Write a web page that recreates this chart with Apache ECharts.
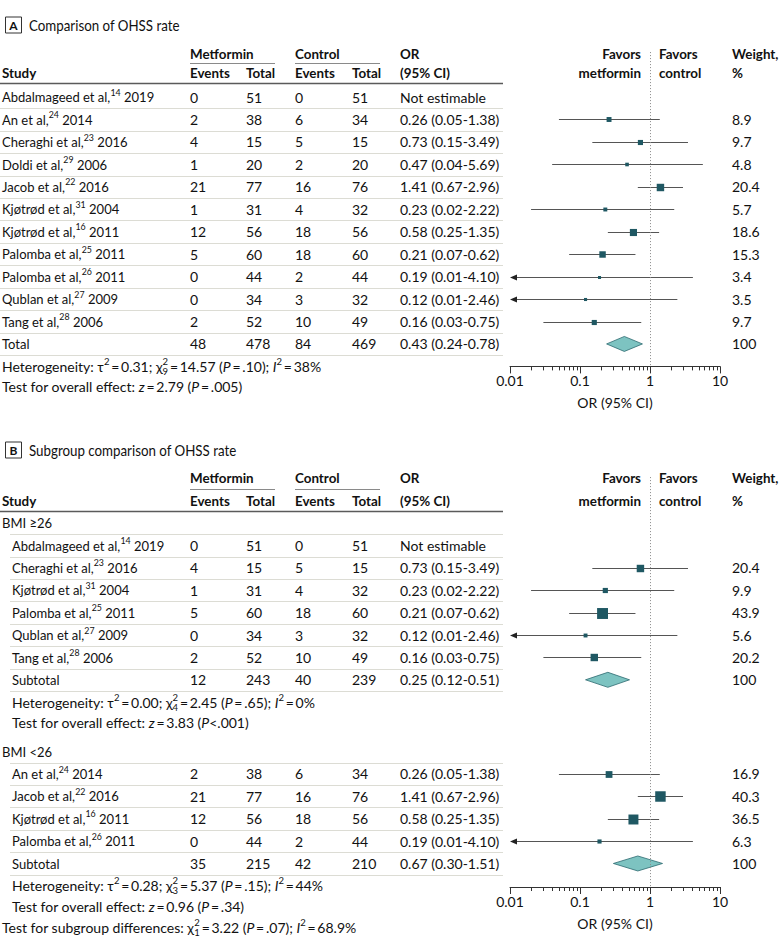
<!DOCTYPE html>
<html>
<head>
<meta charset="utf-8">
<script src="https://cdn.jsdelivr.net/npm/echarts@6/dist/echarts.min.js"></script>
<style>
  html, body { margin: 0; padding: 0; background: #fff; }
  #main { width: 780px; height: 944px; }
</style>
</head>
<body>
<div id="main"></div>
<script>
// ---------- panel A: all studies ----------
var studyA = ['Abdalmageed et al,', 'An et al,', 'Cheraghi et al,', 'Doldi et al,', 'Jacob et al,', 'Kjøtrød et al,', 'Kjøtrød et al,', 'Palomba et al,', 'Palomba et al,', 'Qublan et al,', 'Tang et al,'];
var refA = ['14', '24', '23', '29', '22', '31', '16', '25', '26', '27', '28'];
var yearA = ['2019', '2014', '2016', '2006', '2016', '2004', '2011', '2011', '2011', '2009', '2006'];
var metEventsA = [0, 2, 4, 1, 21, 1, 12, 5, 0, 0, 2];
var metTotalA = [51, 38, 15, 20, 77, 31, 56, 60, 44, 34, 52];
var ctlEventsA = [0, 6, 5, 2, 16, 4, 18, 18, 2, 3, 10];
var ctlTotalA = [51, 34, 15, 20, 76, 32, 56, 60, 44, 32, 49];
var orA = [null, 0.26, 0.73, 0.47, 1.41, 0.23, 0.58, 0.21, 0.19, 0.12, 0.16];
var loA = [null, 0.05, 0.15, 0.04, 0.67, 0.02, 0.25, 0.07, 0.01, 0.01, 0.03];
var hiA = [null, 1.38, 3.49, 5.69, 2.96, 2.22, 1.35, 0.62, 4.10, 2.46, 0.75];
var weightA = [null, 8.9, 9.7, 4.8, 20.4, 5.7, 18.6, 15.3, 3.4, 3.5, 9.7];
var totalA = [48, 478, 84, 469];
var pooledA = [0.43, 0.24, 0.78];
var hetA = 'Heterogeneity: τ{sup|2}\u2009=\u20090.31; χ{ss|2}{sub|9}\u2009=\u200914.57 ({i|P}\u2009=\u2009.10); {i|I}{sup|2}\u2009=\u200938%';
var testA = 'Test for overall effect: {i|z}\u2009=\u20092.79 ({i|P}\u2009=\u2009.005)';

// ---------- panel B: BMI >= 26 ----------
var studyB1 = ['Abdalmageed et al,', 'Cheraghi et al,', 'Kjøtrød et al,', 'Palomba et al,', 'Qublan et al,', 'Tang et al,'];
var refB1 = ['14', '23', '31', '25', '27', '28'];
var yearB1 = ['2019', '2016', '2004', '2011', '2009', '2006'];
var metEventsB1 = [0, 4, 1, 5, 0, 2];
var metTotalB1 = [51, 15, 31, 60, 34, 52];
var ctlEventsB1 = [0, 5, 4, 18, 3, 10];
var ctlTotalB1 = [51, 15, 32, 60, 32, 49];
var orB1 = [null, 0.73, 0.23, 0.21, 0.12, 0.16];
var loB1 = [null, 0.15, 0.02, 0.07, 0.01, 0.03];
var hiB1 = [null, 3.49, 2.22, 0.62, 2.46, 0.75];
var weightB1 = [null, 20.4, 9.9, 43.9, 5.6, 20.2];
var subtotalB1 = [12, 243, 40, 239];
var pooledB1 = [0.25, 0.12, 0.51];
var hetB1 = 'Heterogeneity: τ{sup|2}\u2009=\u20090.00; χ{ss|2}{sub|4}\u2009=\u20092.45 ({i|P}\u2009=\u2009.65); {i|I}{sup|2}\u2009=\u20090%';
var testB1 = 'Test for overall effect: {i|z}\u2009=\u20093.83 ({i|P}<.001)';

// ---------- panel B: BMI < 26 ----------
var studyB2 = ['An et al,', 'Jacob et al,', 'Kjøtrød et al,', 'Palomba et al,'];
var refB2 = ['24', '22', '16', '26'];
var yearB2 = ['2014', '2016', '2011', '2011'];
var metEventsB2 = [2, 21, 12, 0];
var metTotalB2 = [38, 77, 56, 44];
var ctlEventsB2 = [6, 16, 18, 2];
var ctlTotalB2 = [34, 76, 56, 44];
var orB2 = [0.26, 1.41, 0.58, 0.19];
var loB2 = [0.05, 0.67, 0.25, 0.01];
var hiB2 = [1.38, 2.96, 1.35, 4.10];
var weightB2 = [16.9, 40.3, 36.5, 6.3];
var subtotalB2 = [35, 215, 42, 210];
var pooledB2 = [0.67, 0.30, 1.51];
var hetB2 = 'Heterogeneity: τ{sup|2}\u2009=\u20090.28; χ{ss|2}{sub|3}\u2009=\u20095.37 ({i|P}\u2009=\u2009.15); {i|I}{sup|2}\u2009=\u200944%';
var testB2 = 'Test for overall effect: {i|z}\u2009=\u20090.96 ({i|P}\u2009=\u2009.34)';
var testSubgroup = 'Test for subgroup differences: χ{ss|2}{sub|1}\u2009=\u20093.22 ({i|P}\u2009=\u2009.07); {i|I}{sup|2}\u2009=\u200968.9%';

var groupLabels = ['BMI ≥26', 'BMI <26'];

// ---------- layout / style ----------
var FONT = 'Lato, "Open Sans", sans-serif';
var FS = 14;
var NARROW = 0.93; // the source face is a little narrower than Lato for words
var INK = '#111';
var RULE = '#dcdcd4';
var SQUARE = '#1f5863';
var CI_LINE = '#555';
var DIAMOND = '#7dc3c1';
var X_MIN = 0.01, X_MAX = 10;
var COL = { study: 2, metEv: 190, metN: 246, ctlEv: 295, ctlN: 352, or: 400, favL: 641, favR: 659, weight: 732, ruleEnd: 503 };

function rich(fs) {
  return {
    sup: { fontSize: 9.5, fontFamily: FONT, lineHeight: 10, verticalAlign: 'top' },
    ss: { fontSize: 9.5, fontFamily: FONT, lineHeight: 10, verticalAlign: 'top', width: 0 },
    sub: { fontSize: 9.5, fontFamily: FONT, lineHeight: 10, verticalAlign: 'bottom' },
    i: { fontSize: fs, fontFamily: FONT, fontStyle: 'italic', lineHeight: 20 }
  };
}

function fmt(v) { return v.toFixed(2); }
function ciText(or, lo, hi) { return or == null ? 'Not estimable' : fmt(or) + ' (' + fmt(lo) + '-' + fmt(hi) + ')'; }
function label(name, ref, year) { return name + '{sup|' + ref + '} ' + year; }
function cell(x, t, align, bold, fs, sx) { return { x: x, t: String(t), align: align || 'left', bold: !!bold, fs: fs || FS, sx: sx || 1 }; }
function hcell(x, t, align) { return cell(x, t, align, true, 13.4); }
function wcell(x, t) { return cell(x, t, 0, 0, FS, NARROW); }

// header rows (two text lines, underlines under the group names, thick rule)
function headerRows(rows, p1, p2, pRule, pUnder) {
  rows.push({ pos: p1, cells: [hcell(COL.metEv, 'Metformin'), hcell(COL.ctlEv, 'Control'), hcell(COL.or, 'OR'),
    hcell(COL.favL, 'Favors', 'right'), hcell(COL.favR, 'Favors'), hcell(COL.weight, 'Weight,')] });
  rows.push({ pos: p2, cells: [hcell(COL.study, 'Study'), hcell(COL.metEv, 'Events'), hcell(COL.metN, 'Total'),
    hcell(COL.ctlEv, 'Events'), hcell(COL.ctlN, 'Total'), hcell(COL.or, '(95% CI)'),
    hcell(COL.favL, 'metformin', 'right'), hcell(COL.favR, 'control'), hcell(COL.weight, '%')] });
  rows.push({ pos: pUnder, line: [COL.metEv, COL.metEv + 85], under: true });
  rows.push({ pos: pUnder, line: [COL.ctlEv, COL.ctlEv + 85], under: true });
  rows.push({ pos: pRule, line: [0, COL.ruleEnd], thick: true });
}

function dataRow(x0, pos, name, nums, orTxt, w) {
  return { pos: pos, cells: [wcell(x0, name), cell(COL.metEv, nums[0]), cell(COL.metN, nums[1]), cell(COL.ctlEv, nums[2]),
    cell(COL.ctlN, nums[3]), cell(COL.or, orTxt), cell(COL.weight, w == null ? '' : w)] };
}

// ----- table rows, panel A -----
var rowsA = [];
headerRows(rowsA, -1.9, -1.05, -0.62, -1.53);
studyA.forEach(function (s, i) {
  rowsA.push(dataRow(COL.study, i, label(s, refA[i], yearA[i]),
    [metEventsA[i], metTotalA[i], ctlEventsA[i], ctlTotalA[i]], ciText(orA[i], loA[i], hiA[i]), weightA[i]));
  rowsA.push({ pos: i + 0.5, line: [0, COL.ruleEnd] });
});
rowsA.push(dataRow(COL.study, studyA.length, 'Total', totalA, ciText(pooledA[0], pooledA[1], pooledA[2]), 100));
rowsA.push({ pos: studyA.length + 0.5, line: [0, COL.ruleEnd] });
rowsA.push({ pos: 12.0, cells: [cell(COL.study, hetA)] });
rowsA.push({ pos: 12.9, cells: [cell(COL.study, testA)] });

// ----- table rows, panel B -----
var rowsB = [];
var IND = 12;
headerRows(rowsB, -2.0, -0.98, -0.54, -1.52);
function groupRows(start, g, studies, refs, years, me, mt, ce, ct, or, lo, hi, w, sub, pooled, het, test) {
  rowsB.push({ pos: start, cells: [wcell(COL.study, groupLabels[g])] });
  rowsB.push({ pos: start + 0.5, line: [10, COL.ruleEnd] });
  studies.forEach(function (s, i) {
    var p = start + 1 + i;
    rowsB.push(dataRow(IND, p, label(s, refs[i], years[i]), [me[i], mt[i], ce[i], ct[i]], ciText(or[i], lo[i], hi[i]), w[i]));
    rowsB.push({ pos: p + 0.5, line: [10, COL.ruleEnd] });
  });
  var ps = start + 1 + studies.length;
  rowsB.push(dataRow(IND, ps, 'Subtotal', sub, ciText(pooled[0], pooled[1], pooled[2]), 100));
  rowsB.push({ pos: ps + 0.5, line: [10, COL.ruleEnd] });
  rowsB.push({ pos: ps + 1.0, cells: [cell(IND, het)] });
  rowsB.push({ pos: ps + 1.92, cells: [cell(IND, test)] });
}
groupRows(0, 0, studyB1, refB1, yearB1, metEventsB1, metTotalB1, ctlEventsB1, ctlTotalB1, orB1, loB1, hiB1, weightB1, subtotalB1, pooledB1, hetB1, testB1);
groupRows(10.2, 1, studyB2, refB2, yearB2, metEventsB2, metTotalB2, ctlEventsB2, ctlTotalB2, orB2, loB2, hiB2, weightB2, subtotalB2, pooledB2, hetB2, testB2);
rowsB.push({ pos: 18.05, cells: [cell(COL.study, testSubgroup)] });

// ----- forest marks -----
function studyPoints(or, lo, hi, w, offset) {
  var out = [];
  or.forEach(function (v, i) { if (v != null) out.push([v, offset + i, lo[i], hi[i], w[i]]); });
  return out;
}
var forestA = studyPoints(orA, loA, hiA, weightA, 0);
var diamondA = [[pooledA[0], studyA.length, pooledA[1], pooledA[2]]];
var forestB = studyPoints(orB1, loB1, hiB1, weightB1, 1).concat(studyPoints(orB2, loB2, hiB2, weightB2, 11.2));
var diamondB = [[pooledB1[0], 7, pooledB1[1], pooledB1[2]], [pooledB2[0], 15.2, pooledB2[1], pooledB2[2]]];

function renderTable(rows) {
  return function (params, api) {
    var r = rows[params.dataIndex];
    var y = api.coord([1, r.pos])[1];
    if (r.line) {
      var yy = Math.round(y) + 0.5;
      return {
        type: 'line', shape: { x1: r.line[0], y1: yy, x2: r.line[1], y2: yy },
        style: { stroke: r.thick ? '#5a5a5a' : (r.under ? '#8a8a8a' : RULE), lineWidth: r.thick ? 1.6 : 1 }
      };
    }
    return {
      type: 'group',
      children: r.cells.map(function (c) {
        return {
          type: 'text', x: c.x, y: y, scaleX: c.sx,
          style: {
            text: c.t, fill: INK, fontFamily: FONT, fontSize: c.fs, fontWeight: c.bold ? 'bold' : 'normal',
            align: c.align, verticalAlign: 'middle', lineHeight: 20, rich: rich(c.fs)
          }
        };
      })
    };
  };
}

function renderStudy(params, api) {
  var or = api.value(0), pos = api.value(1), lo = api.value(2), hi = api.value(3), w = api.value(4);
  var c = api.coord([or, pos]);
  var y = Math.round(c[1]) + 0.5;
  var clipped = lo <= X_MIN;
  var x0 = api.coord([Math.max(lo, X_MIN), pos])[0];
  var x1 = api.coord([Math.min(hi, X_MAX), pos])[0];
  var s = Math.max(3, 1.65 * Math.sqrt(w));
  var kids = [
    { type: 'line', shape: { x1: clipped ? x0 + 5 : x0, y1: y, x2: x1, y2: y }, style: { stroke: CI_LINE, lineWidth: 1 } },
    { type: 'rect', shape: { x: c[0] - s / 2, y: y - s / 2, width: s, height: s }, style: { fill: SQUARE } }
  ];
  if (clipped) {
    kids.push({ type: 'polygon', shape: { points: [[x0, y], [x0 + 7, y - 3], [x0 + 7, y + 3]] }, style: { fill: '#222' } });
  }
  return { type: 'group', children: kids };
}

function renderDiamond(params, api) {
  var c = api.coord([api.value(0), api.value(1)]);
  var l = api.coord([api.value(2), api.value(1)]);
  var r = api.coord([api.value(3), api.value(1)]);
  var h = 7.5;
  return {
    type: 'polygon',
    shape: { points: [[l[0], c[1]], [c[0], c[1] - h], [r[0], c[1]], [c[0], c[1] + h]] },
    style: { fill: DIAMOND, stroke: '#2c6a70', lineWidth: 0.8 }
  };
}

var minorTicks = [];
[0.01, 0.1, 1].forEach(function (d) { for (var k = 2; k <= 9; k++) minorTicks.push(+(d * k).toFixed(3)); });

function xAxes(gi) {
  return [{
    type: 'log', logBase: 10, gridIndex: gi, min: X_MIN, max: X_MAX, position: 'bottom',
    axisLine: { onZero: false, lineStyle: { color: '#333', width: 1 } },
    axisTick: { length: 7, lineStyle: { color: '#333' } },
    axisLabel: { color: INK, fontSize: FS, fontFamily: FONT, margin: 7, formatter: function (v) { return String(+(+v).toFixed(2)); } },
    splitLine: { show: false },
    name: 'OR (95% CI)', nameLocation: 'middle', nameGap: 29,
    nameTextStyle: { color: INK, fontSize: FS, fontFamily: FONT }
  }, {
    type: 'log', logBase: 10, gridIndex: gi, min: X_MIN, max: X_MAX, position: 'bottom', offset: 0,
    axisLine: { show: false, onZero: false },
    axisTick: { length: 4, lineStyle: { color: '#333' }, customValues: minorTicks },
    axisLabel: { show: false },
    splitLine: { show: false }
  }];
}

var nullLine = {
  silent: true, symbol: 'none', label: { show: false },
  lineStyle: { color: '#8a8a8a', type: [1, 2], width: 1 },
  data: [{ xAxis: 1 }]
};

function panelTitle(y, letter, text) {
  return [
    { type: 'rect', shape: { x: 5.5, y: y - 8.5, width: 16, height: 16 }, style: { fill: '#fff', stroke: '#333', lineWidth: 1 } },
    { type: 'text', x: 13.5, y: y, style: { text: letter, fill: INK, fontFamily: FONT, fontSize: 12, fontWeight: 'bold', align: 'center', verticalAlign: 'middle' } },
    { type: 'text', x: 29, y: y, scaleX: 0.86, style: { text: text, fill: INK, fontFamily: FONT, fontSize: 15.5, verticalAlign: 'middle' } }
  ];
}

var option = {
  animation: false,
  backgroundColor: '#fff',
  textStyle: { fontFamily: FONT },
  grid: [
    { left: 510, width: 210, top: 52.1, height: 314.3 },
    { left: 510, width: 210, top: 477.1, height: 409.9 }
  ],
  xAxis: xAxes(0).concat(xAxes(1)),
  yAxis: [
    { type: 'value', gridIndex: 0, min: -2, max: 12, inverse: true, show: false },
    { type: 'value', gridIndex: 1, min: -2.05, max: 16.25, inverse: true, show: false }
  ],
  graphic: panelTitle(25.5, 'A', 'Comparison of OHSS rate').concat(panelTitle(450.5, 'B', 'Subgroup comparison of OHSS rate')),
  series: [
    { type: 'custom', xAxisIndex: 0, yAxisIndex: 0, silent: true, clip: false, renderItem: renderTable(rowsA),
      data: rowsA.map(function (r) { return [1, r.pos]; }) },
    { type: 'custom', xAxisIndex: 0, yAxisIndex: 0, silent: true, clip: false, renderItem: renderStudy, data: forestA,
      markLine: nullLine },
    { type: 'custom', xAxisIndex: 0, yAxisIndex: 0, silent: true, clip: false, renderItem: renderDiamond, data: diamondA },
    { type: 'custom', xAxisIndex: 2, yAxisIndex: 1, silent: true, clip: false, renderItem: renderTable(rowsB),
      data: rowsB.map(function (r) { return [1, r.pos]; }) },
    { type: 'custom', xAxisIndex: 2, yAxisIndex: 1, silent: true, clip: false, renderItem: renderStudy, data: forestB,
      markLine: nullLine },
    { type: 'custom', xAxisIndex: 2, yAxisIndex: 1, silent: true, clip: false, renderItem: renderDiamond, data: diamondB }
  ]
};

var chart = echarts.init(document.getElementById('main'), null, { renderer: 'svg' });
chart.setOption(option);
</script>
</body>
</html>
